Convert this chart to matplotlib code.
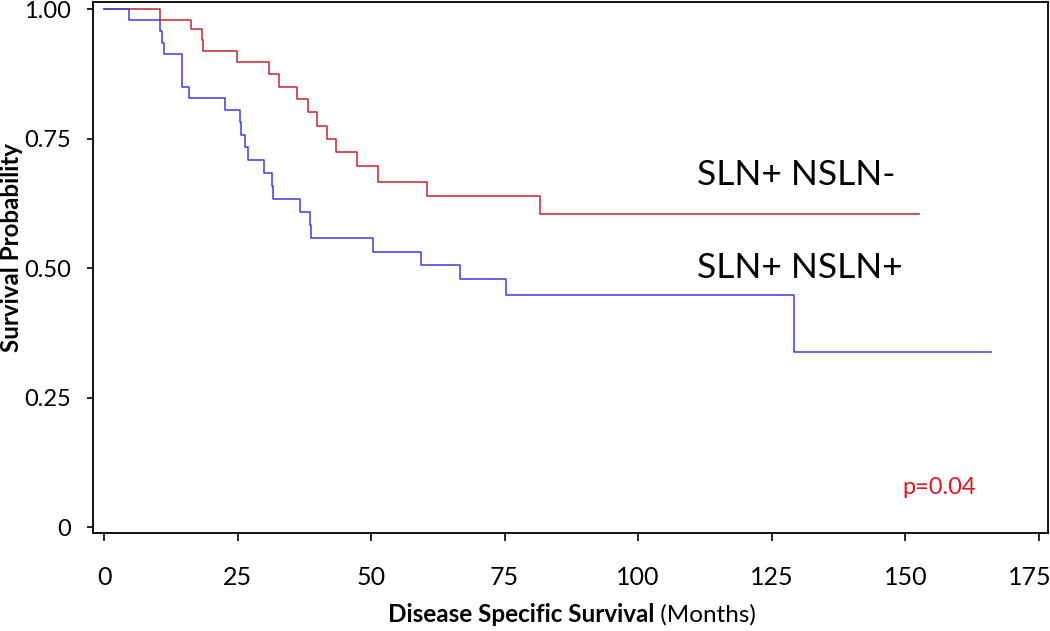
import matplotlib
matplotlib.use("Agg")
import matplotlib.pyplot as plt
import matplotlib.transforms as mtransforms

# Kaplan-Meier curves (months, survival probability)
red_t = [0, 10.5, 16.2, 18.3, 18.5, 24.8, 30.9, 32.8, 36.1, 38.1, 39.9, 41.7,
         43.5, 47.3, 51.2, 60.5, 81.7, 152.5]
red_s = [1.0, 0.979, 0.961, 0.940, 0.918, 0.897, 0.875, 0.850, 0.826, 0.801,
         0.775, 0.750, 0.724, 0.696, 0.667, 0.639, 0.604, 0.604]

blue_t = [0, 4.7, 10.4, 10.9, 11.2, 14.6, 16.0, 22.6, 25.5, 25.7, 26.4, 26.9,
          29.9, 31.4, 31.7, 36.6, 38.5, 38.7, 50.3, 59.4, 66.7, 75.2, 129.2, 166.0]
blue_s = [1.0, 0.979, 0.958, 0.935, 0.914, 0.850, 0.829, 0.806, 0.782, 0.757,
          0.733, 0.709, 0.684, 0.658, 0.633, 0.609, 0.583, 0.558, 0.531, 0.505,
          0.478, 0.448, 0.338, 0.338]

x_ticks = [0, 25, 50, 75, 100, 125, 150, 175]
y_ticks = [0, 0.25, 0.50, 0.75, 1.00]
y_tick_labels = ["0", "0.25", "0.50", "0.75", "1.00"]

red_label = "SLN+ NSLN-"
blue_label = "SLN+ NSLN+"
p_text = "p=0.04"

plt.rcParams['font.family'] = ['Lato', 'DejaVu Sans']

fig = plt.figure(figsize=(10.5, 6.31), dpi=100)
ax = fig.add_axes([0.0886, 0.1553, 0.9094, 0.8415])

ax.step(red_t, red_s, where='post', color='#c8202f', lw=1.1)
ax.step(blue_t, blue_s, where='post', color='#3a3aee', lw=1.1)

ax.set_xlim(-2.06, 176.7)
ax.set_ylim(-0.0115, 1.0135)

ax.set_xticks(x_ticks)
ax.set_xticklabels([str(v) for v in x_ticks], fontsize=18)
ax.set_yticks(y_ticks)
ax.set_yticklabels(y_tick_labels, fontsize=17)
ax.tick_params(axis='x', direction='out', length=6, width=1.2, pad=18)
ax.tick_params(axis='y', direction='out', length=4, width=1.2, pad=12)

# last x label sits on the right edge: nudge it left so it stays inside
last = ax.get_xticklabels()[-1]
last.set_transform(last.get_transform() +
                   mtransforms.ScaledTranslation(-9 / 100, 0, fig.dpi_scale_trans))

for sp in ax.spines.values():
    sp.set_linewidth(1.4)
    sp.set_color('#111111')

ax.text(111.0, 0.660, red_label, fontsize=25.5, va='baseline', ha='left')
ax.text(111.0, 0.481, blue_label, fontsize=25.5, va='baseline', ha='left')
ax.text(149.5, 0.077, p_text, fontsize=17, color='#e8141c', va='center', ha='left')

# x label: bold part + normal part
t1 = fig.text(0.3695, 0.0143, "Disease Specific Survival", fontsize=17.5,
              fontweight='bold', va='baseline', ha='left')
fig.canvas.draw()
ax.annotate(" (Months)", xy=(1, 0), xycoords=t1, fontsize=17.5,
            va='bottom', ha='left', annotation_clip=False)

fig.text(0.011, 0.607, "Survival Probability", fontsize=17.4, fontweight='bold',
         rotation=90, va='center', ha='center')

fig.savefig("out.png", dpi=100)
